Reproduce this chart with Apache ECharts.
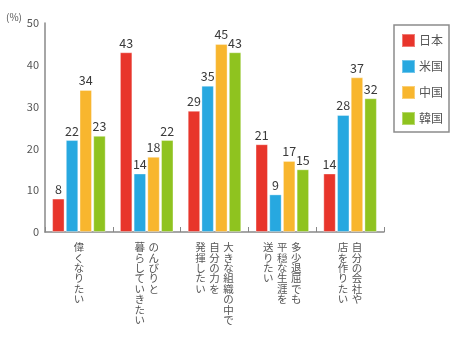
<!DOCTYPE html>
<html><head><meta charset="utf-8">
<script src="https://cdn.jsdelivr.net/npm/echarts@6/dist/echarts.min.js"></script>
<style>html,body{margin:0;padding:0;background:#fff;}#c{width:456px;height:343px;}</style>
</head><body><div id="c"></div>
<script>
// Categories: each string's lines are vertical columns, read right-to-left
const categories = [
  "偉くなりたい",
  "のんびりと\n暮らしていきたい",
  "大きな組織の中で\n自分の力を\n発揮したい",
  "多少退屈でも\n平穏な生涯を\n送りたい",
  "自分の会社や\n店を作りたい"
];
const seriesNames = ["日本", "米国", "中国", "韓国"];
const japan = [8, 43, 29, 21, 14];
const usa = [22, 14, 35, 9, 28];
const china = [34, 18, 45, 17, 37];
const korea = [23, 22, 43, 15, 32];
const yTicks = [0, 10, 20, 30, 40, 50];
const colors = ["#e8352b", "#27a8e0", "#f8b62e", "#8fc31f"];

function verticalLabel(s) {
  const cols = s.split("\n").map(c => Array.from(c));
  const n = Math.max(...cols.map(c => c.length));
  const order = cols.slice().reverse(); // leftmost column = last line
  const lines = [];
  for (let i = 0; i < n; i++) {
    const parts = order.map(c => "{c|" + (c[i] || "　") + "}");
    lines.push(parts.join("{s|}"));
  }
  return lines.join("\n");
}

const chart = echarts.init(document.getElementById("c"));
const ff = '"Noto Sans CJK JP", "Noto Sans", sans-serif';
const data = [japan, usa, china, korea];
chart.setOption({
  animation: false,
  textStyle: { fontFamily: ff },
  color: colors,
  grid: { left: 45, right: 72, top: 23, bottom: 111, containLabel: false, outerBoundsMode: 'none' },
  legend: {
    orient: 'vertical',
    left: 394, top: 25,
    data: seriesNames,
    icon: 'rect',
    itemWidth: 13, itemHeight: 13,
    itemGap: 11,
    padding: [8, 6, 6, 7],
    borderColor: '#8c8c8c', borderWidth: 1.5,
    textStyle: { fontSize: 12, color: '#555', fontFamily: ff, padding: [0, 0, 0, -1] }
  },
  xAxis: {
    type: 'category',
    data: categories,
    axisLine: { lineStyle: { color: '#888', width: 1.5 } },
    axisTick: { show: true, inside: true, length: 5, lineStyle: { color: '#888' } },
    axisLabel: {
      interval: 0, margin: 10, color: '#555',
      formatter: verticalLabel,
      verticalAlign: 'top',
      rich: {
        c: { fontSize: 10.5, lineHeight: 10.4, width: 10.5, align: 'center', color: '#555', fontFamily: ff },
        s: { width: 3.5, fontSize: 10.5, lineHeight: 10.4 }
      }
    }
  },
  yAxis: {
    type: 'value', min: 0, max: 50, interval: 10,
    axisLine: { show: true, lineStyle: { color: '#888', width: 1.5 } },
    axisTick: { show: false },
    splitLine: { show: false },
    axisLabel: { color: '#555', fontSize: 11, margin: 6, fontFamily: ff,
      formatter: v => yTicks.includes(v) ? String(v) : '' },
    name: '(%)', nameLocation: 'end', nameGap: 6, nameMoveOverlap: false,
    nameTextStyle: { color: '#555', fontSize: 10, align: 'right', verticalAlign: 'middle', padding: [0, 23, 0, 0] }
  },
  series: seriesNames.map((n, i) => ({
    name: n, type: 'bar', data: data[i],
    barCategoryGap: '21%', barGap: '10%',
    itemStyle: { color: colors[i], borderColor: 'rgba(255,255,255,0.35)', borderWidth: 1 },
    label: { show: true, position: 'top', distance: 3, color: '#3a3a3a', fontSize: 12.5, fontFamily: ff }
  }))
});
</script></body></html>
